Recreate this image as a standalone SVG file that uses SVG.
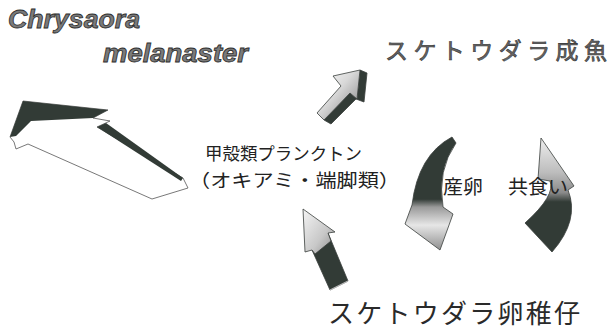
<svg xmlns="http://www.w3.org/2000/svg" width="609" height="332" viewBox="0 0 609 332">
<defs>
<style>
.dark{fill:#323b36}
.outl{stroke:#3a3f3c;stroke-width:0.8;stroke-linejoin:round}
.latin{font-family:"Liberation Sans",Arial,sans-serif;font-weight:bold;font-style:italic;fill:#7a7a7a;stroke:#2e2e2e;stroke-width:0.8}
.jp{font-family:"Noto Sans CJK JP","Noto Sans CJK SC",sans-serif;fill:#222}
.big{font-family:"Noto Sans CJK JP","Noto Sans CJK SC",sans-serif}
</style>
<linearGradient id="silverD" x1="0" y1="0" x2="1" y2="1">
<stop offset="0" stop-color="#ffffff"/>
<stop offset="0.45" stop-color="#d8d8d8"/>
<stop offset="1" stop-color="#7d7d7d"/>
</linearGradient>
<linearGradient id="silverV" x1="0" y1="0" x2="1" y2="1">
<stop offset="0" stop-color="#f4f4f4"/>
<stop offset="0.6" stop-color="#c8c8c8"/>
<stop offset="1" stop-color="#8a8a8a"/>
</linearGradient>
<linearGradient id="curveL" x1="0" y1="0" x2="0" y2="1">
<stop offset="0" stop-color="#323b36"/>
<stop offset="0.55" stop-color="#323b36"/>
<stop offset="0.62" stop-color="#9a9a9a"/>
<stop offset="0.78" stop-color="#e6e6e6"/>
<stop offset="1" stop-color="#8f8f8f"/>
</linearGradient>
<linearGradient id="curveR" x1="0" y1="0" x2="0" y2="1">
<stop offset="0" stop-color="#eeeeee"/>
<stop offset="0.3" stop-color="#bdbdbd"/>
<stop offset="0.48" stop-color="#8a8a8a"/>
<stop offset="0.56" stop-color="#323b36"/>
<stop offset="1" stop-color="#323b36"/>
</linearGradient>
</defs>
<rect width="609" height="332" fill="#ffffff"/>

<g id="jellyfish">
<text class="latin" x="8" y="28" font-size="25" textLength="132" lengthAdjust="spacingAndGlyphs">Chrysaora</text>
<text class="latin" x="103" y="62" font-size="25" textLength="145" lengthAdjust="spacingAndGlyphs">melanaster</text>
</g>

<g id="connectors">
<g id="arrow-jelly-krill">
<polygon points="23,101 108,110 93,118 110,121 97,127 183,178 188,188 152,199 28,144 16,149 14,142 10,137" fill="#ffffff" stroke="#555" stroke-width="0.8" stroke-linejoin="round"/>
<polygon class="dark" points="23,101 108,110 93,118 31,121 16,136 10,137"/>
<polygon class="dark" points="97,127 106,123 183,178 181,181"/>
</g>
<g id="arrow-krill-adult">
<polygon class="dark outl" points="324,120 350,93 357,99 360,70 367,73 364,102 356,99 331,124"/>
<polygon class="outl" fill="url(#silverD)" points="360,70 333,76 341,86 317,113 324,120 350,93 357,99"/>
</g>
<g id="arrow-larvae-krill">
<polygon class="dark outl" points="312,250 328,233 348,281 330,290"/>
<line x1="330" y1="290" x2="348" y2="281" stroke="#bbb" stroke-width="1.2"/>
<polygon class="outl" fill="url(#silverV)" points="303,209 335,232 328,233 331,241 315,254 312,250 305,252"/>
</g>
<g id="arrow-spawn">
<path class="outl" fill="url(#curveL)" d="M452,137 Q418,155 412,205 L405,224 L440,250 L453,214 L443,207 Q437,170 456,143 Z"/>
</g>
<g id="arrow-cannibal">
<path class="outl" fill="url(#curveR)" d="M541,138 L538,179 L550,181 Q556,195 525,223 L552,252 Q580,220 568,190 L574,186 Z"/>
</g>
</g>

<g id="node-krill">
<text class="jp" x="205" y="160" font-size="17.5" textLength="157" lengthAdjust="spacingAndGlyphs">甲殻類プランクトン</text>
<text class="jp" x="189" y="187" font-size="18" textLength="211" lengthAdjust="spacingAndGlyphs">（オキアミ・端脚類）</text>
</g>
<g id="label-spawn"><text class="jp" x="443" y="194" font-size="19.5" textLength="40" lengthAdjust="spacingAndGlyphs">産卵</text></g>
<g id="label-cannibal"><text class="jp" x="508" y="194" font-size="19.5" textLength="60" lengthAdjust="spacingAndGlyphs">共食い</text></g>

<g id="node-adult">
<text class="big" x="385" y="59" font-size="23" textLength="222" lengthAdjust="spacing" fill="#666" stroke="#333" stroke-width="0.6">スケトウダラ成魚</text>
</g>
<g id="node-larvae">
<text class="big" x="328" y="323" font-size="26" textLength="252" lengthAdjust="spacing" fill="#2a2a2a">スケトウダラ卵稚仔</text>
</g>
</svg>
